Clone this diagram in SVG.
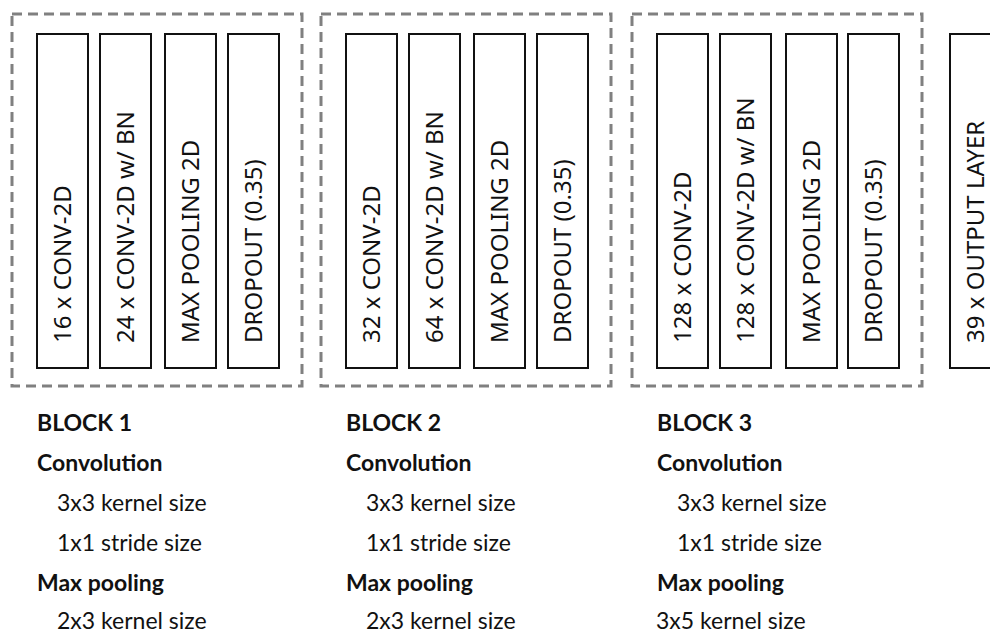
<svg xmlns="http://www.w3.org/2000/svg" width="990" height="635" viewBox="0 0 990 635">
<style>
.blk{fill:none;stroke:#808080;stroke-width:3;stroke-dasharray:10 6}
.lay{fill:#fff;stroke:#111;stroke-width:2}
.lt{font-family:'Noto Sans','Open Sans',sans-serif;font-size:24px;fill:#111}
.h{font-family:Lato,'Liberation Sans',sans-serif;font-weight:bold;font-size:23px;fill:#111}
.n{font-family:Lato,'Liberation Sans',sans-serif;font-size:23px;fill:#111}
</style>
<rect width="990" height="635" fill="#fff"/>
<g id="block1">
<rect class="blk" x="12" y="14" width="290" height="372"/>
<g id="b1l1"><rect class="lay" x="37" y="34" width="51" height="334"/><text class="lt" transform="translate(71,343) rotate(-90)">16 x CONV-2D</text></g>
<g id="b1l2"><rect class="lay" x="100" y="34" width="51" height="334"/><text class="lt" transform="translate(134,343) rotate(-90)">24 x CONV-2D w/ BN</text></g>
<g id="b1l3"><rect class="lay" x="165" y="34" width="51" height="334"/><text class="lt" transform="translate(199,343) rotate(-90)">MAX POOLING 2D</text></g>
<g id="b1l4"><rect class="lay" x="228" y="34" width="51" height="334"/><text class="lt" transform="translate(262,343) rotate(-90)">DROPOUT (0.35)</text></g>
</g>
<g id="block2">
<rect class="blk" x="321" y="14" width="290" height="372"/>
<g id="b2l1"><rect class="lay" x="346" y="34" width="51" height="334"/><text class="lt" transform="translate(380,343) rotate(-90)">32 x CONV-2D</text></g>
<g id="b2l2"><rect class="lay" x="409" y="34" width="51" height="334"/><text class="lt" transform="translate(443,343) rotate(-90)">64 x CONV-2D w/ BN</text></g>
<g id="b2l3"><rect class="lay" x="474" y="34" width="51" height="334"/><text class="lt" transform="translate(508,343) rotate(-90)">MAX POOLING 2D</text></g>
<g id="b2l4"><rect class="lay" x="537" y="34" width="51" height="334"/><text class="lt" transform="translate(571,343) rotate(-90)">DROPOUT (0.35)</text></g>
</g>
<g id="block3">
<rect class="blk" x="632" y="14" width="290" height="372"/>
<g id="b3l1"><rect class="lay" x="657" y="34" width="51" height="334"/><text class="lt" transform="translate(691,343) rotate(-90)">128 x CONV-2D</text></g>
<g id="b3l2"><rect class="lay" x="720" y="34" width="51" height="334"/><text class="lt" transform="translate(754,343) rotate(-90)">128 x CONV-2D w/ BN</text></g>
<g id="b3l3"><rect class="lay" x="786" y="34" width="51" height="334"/><text class="lt" transform="translate(820,343) rotate(-90)">MAX POOLING 2D</text></g>
<g id="b3l4"><rect class="lay" x="848" y="34" width="51" height="334"/><text class="lt" transform="translate(882,343) rotate(-90)">DROPOUT (0.35)</text></g>
</g>
<g id="output">
<rect class="lay" x="950" y="34" width="60" height="334"/><text class="lt" transform="translate(984,343) rotate(-90)">39 x OUTPUT LAYER</text>
</g>
<g id="connectors"></g>
<g id="desc1">
<text class="h" x="37" y="431">BLOCK 1</text>
<text class="h" x="37" y="471">Convolution</text>
<text class="n" x="57" y="511">3x3 kernel size</text>
<text class="n" x="57" y="551">1x1 stride size</text>
<text class="h" x="37" y="591">Max pooling</text>
<text class="n" x="57" y="629">2x3 kernel size</text>
</g>
<g id="desc2">
<text class="h" x="346" y="431">BLOCK 2</text>
<text class="h" x="346" y="471">Convolution</text>
<text class="n" x="366" y="511">3x3 kernel size</text>
<text class="n" x="366" y="551">1x1 stride size</text>
<text class="h" x="346" y="591">Max pooling</text>
<text class="n" x="366" y="629">2x3 kernel size</text>
</g>
<g id="desc3">
<text class="h" x="657" y="431">BLOCK 3</text>
<text class="h" x="657" y="471">Convolution</text>
<text class="n" x="677" y="511">3x3 kernel size</text>
<text class="n" x="677" y="551">1x1 stride size</text>
<text class="h" x="657" y="591">Max pooling</text>
<text class="n" x="656" y="629">3x5 kernel size</text>
</g>
</svg>
